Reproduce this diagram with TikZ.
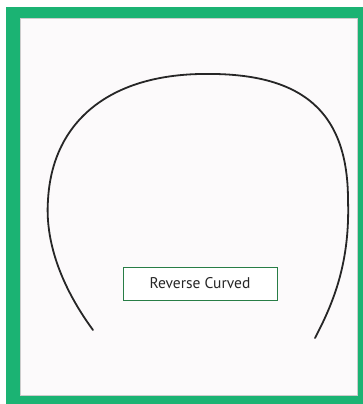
\documentclass[tikz,border=0pt]{standalone}
\usepackage{fontspec}
\setmainfont{PT Sans}
\definecolor{framegreen}{RGB}{27,179,115}
\definecolor{boxgreen}{RGB}{40,125,70}
\definecolor{paper}{RGB}{252,250,251}
\begin{document}
\begin{tikzpicture}[x=1pt, y=-1pt]
    % Page and frame
    \useasboundingbox (0,0) rectangle (363,404);
    \fill[white] (0,0) rectangle (363,404);
    \fill[framegreen] (6,7) rectangle (363,404);
    \draw[gray!40, fill=paper] (20,18) rectangle (357,395);

    % Reverse curved arch
    \draw[line width=1.8pt, black!85, line cap=round]
        (93,330) .. controls (60,285) and (45,240) .. (48,200)
        .. controls (52,125) and (105,76) .. (200,74)
        .. controls (295,72) and (348,105) .. (348,200)
        .. controls (350,260) and (335,300) .. (315,338);

    % Label
    \node[draw=boxgreen, fill=white, minimum width=154pt, minimum height=33pt,
          font=\fontsize{15.5}{17}\selectfont, text=black!85] (label) at (200,283.5) {Reverse Curved};
\end{tikzpicture}
\end{document}
